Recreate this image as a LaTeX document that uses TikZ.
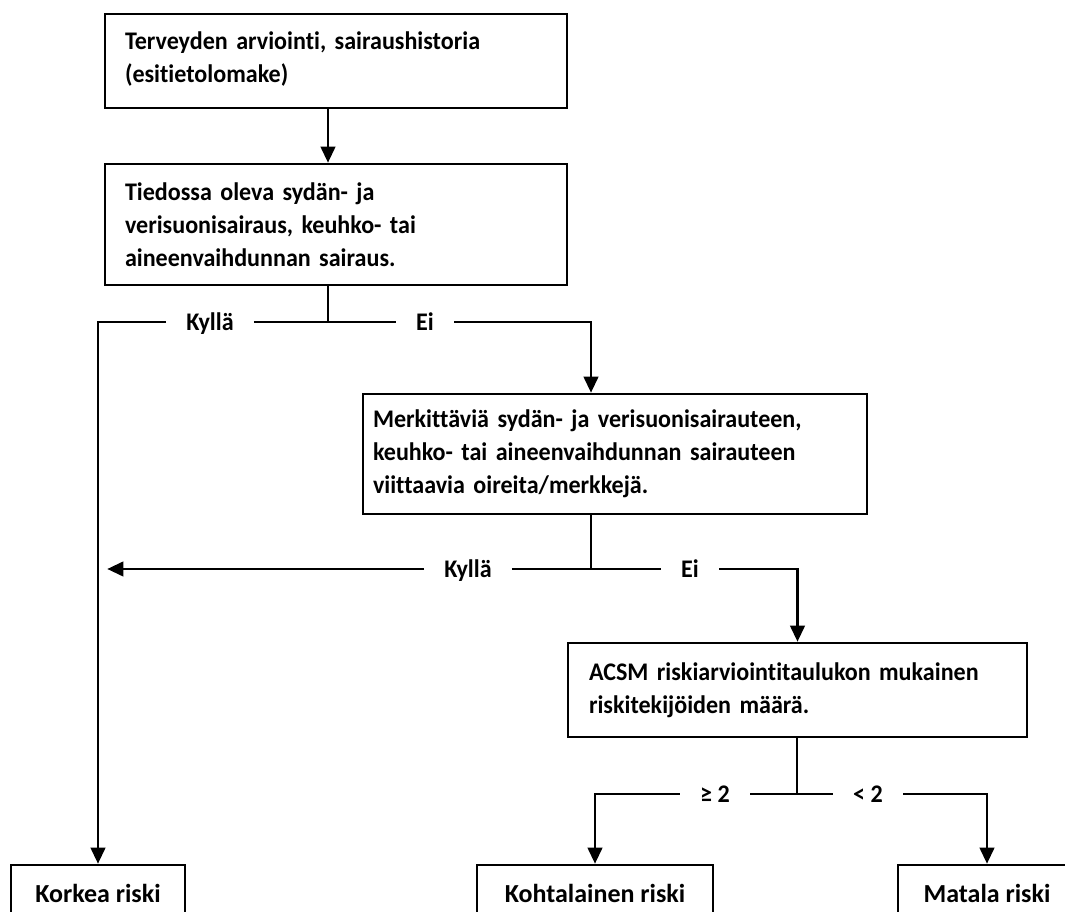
\documentclass[tikz,border=0pt]{standalone}
\usepackage{fontspec}
\setmainfont{Carlito}[FakeStretch=0.95, Ligatures=NoCommon]
\newfontfamily\riskfamily{Carlito}[Ligatures=NoCommon]
\usepackage{tikz}
\usetikzlibrary{positioning,arrows.meta}
\newcommand{\flowfont}{\bfseries\fontsize{19}{24.75}\selectfont}
\newcommand{\riskfont}{\riskfamily\bfseries\fontsize{19.5}{24}\selectfont}
\tikzset{
  flowbox/.style={draw, line width=2pt, align=left, inner xsep=15pt, inner ysep=0pt, font=\flowfont},
  riskbox/.style={draw, line width=2pt, align=center, inner sep=0pt, minimum height=42pt, font=\riskfont},
  branch/.style={inner xsep=15pt, inner ysep=0pt, text height=14pt, text depth=1.8pt, font=\flowfont},
  fwd/.style={-{Triangle[length=12pt,width=11pt]}, line width=1.6pt},
  link/.style={line width=1.6pt},
}

\begin{document}
\begin{tikzpicture}[x=0.75pt,y=-0.75pt]
\useasboundingbox (0,0) rectangle (1065,912);
\clip (0,0) rectangle (1065,912);

%Boxes
\node[flowbox, text width=316.5pt, minimum height=70.5pt] (box1) at (336,61) {Terveyden arviointi, sairaushistoria\\(esitietolomake)\vspace{3pt}};
\node[flowbox, text width=316.5pt, minimum height=90.75pt] (box2) at (336,224.5) {Tiedossa oleva sydän- ja\\verisuonisairaus, keuhko- tai\\aineenvaihdunnan sairaus.};
\node[flowbox, inner xsep=7.5pt, text width=363pt, minimum height=90pt] (box3) at (615,454) {Merkittäviä sydän- ja verisuonisairauteen,\\keuhko- tai aineenvaihdunnan sairauteen\\viittaavia oireita/merkkejä.};
\node[flowbox, inner xsep=15.75pt, text width=312.75pt, minimum height=70.5pt] (box4) at (797.5,690) {ACSM riskiarviointitaulukon mukainen\\riskitekijöiden määrä.};

%Results
\node[riskbox, minimum width=130.5pt] (risk1) at (98,893) {Korkea riski};
\node[riskbox, minimum width=177pt] (risk2) at (595,893) {Kohtalainen riski};
\node[riskbox, minimum width=133.5pt] (risk3) at (987,893) {Matala riski};

%Branch labels
\coordinate (j1) at (328,322);
\node[branch] (yes1) at (210,322) {Kyllä};
\node[branch] (no1) at (425,322) {Ei};
\coordinate (j2) at (591,569);
\node[branch] (yes2) at (468,569) {Kyllä};
\node[branch] (no2) at (690,569) {Ei};
\coordinate (j3) at (797,794);
\node[branch] (ge) at (715,794) {≥ 2};
\node[branch] (lt) at (868,794) {< 2};

%Lines
\draw[fwd] (box1.south -| j1) -- (box2.north -| j1);
\draw[link] (box2.south -| j1) -- (j1);
\draw[link] (yes1.east) -- (no1.west);
\draw[fwd] (yes1.west) -| (risk1.north);
\draw[fwd] (no1.east) -| (box3.north -| j2);
\draw[link] (box3.south -| j2) -- (j2);
\draw[link] (yes2.east) -- (no2.west);
\draw[fwd, shorten >=7pt] (yes2.west) -- (yes2.west -| risk1.north);
\draw[fwd] (no2.east) -| (box4.north);
\draw[link] (box4.south -| j3) -- (j3);
\draw[link] (ge.east) -- (lt.west);
\draw[fwd] (ge.west) -| (risk2.north);
\draw[fwd] (lt.east) -| (risk3.north);
\end{tikzpicture}
\end{document}
